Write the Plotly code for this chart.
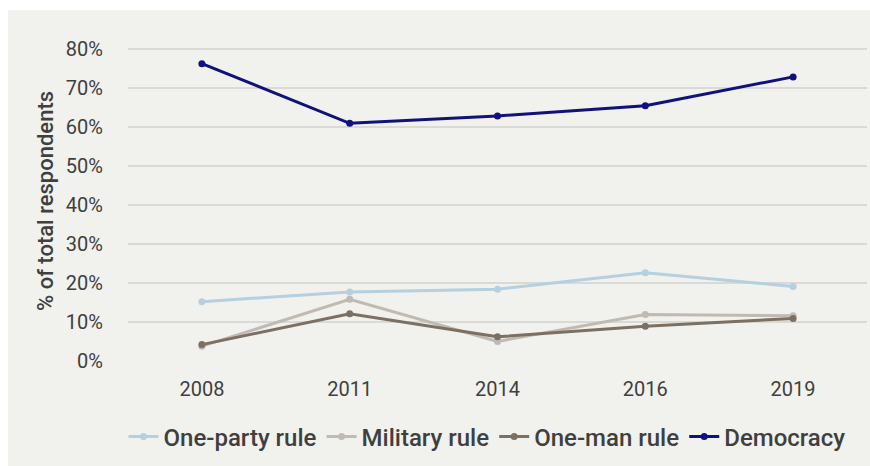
import plotly.graph_objects as go

years = ["2008", "2011", "2014", "2016", "2019"]
one_party = [0.152, 0.177, 0.184, 0.226, 0.191]
military = [0.038, 0.158, 0.050, 0.119, 0.116]
one_man = [0.042, 0.121, 0.062, 0.089, 0.109]
democracy = [0.762, 0.609, 0.628, 0.654, 0.728]

series_names = ["One-party rule", "Military rule", "One-man rule", "Democracy"]
series_values = [one_party, military, one_man, democracy]
series_colors = ["#b5d0df", "#c1bab2", "#7c7062", "#11117d"]

FONT = "Roboto, Arial, sans-serif"
TEXT = "#3f3f3f"
BG = "#f1f1ed"

fig = go.Figure()
for name, vals, col in zip(series_names, series_values, series_colors):
    fig.add_trace(go.Scatter(
        x=years, y=vals, name=name, mode="lines+markers",
        line=dict(color=col, width=3),
        marker=dict(color=col, size=7),
        hoverinfo="skip",
    ))

W, H = 870, 466
L, R, T, B = 128, 3, 41, 105
pw, ph = W - L - R, H - T - B

def px_x(p):
    return (p - L) / pw

def px_y(p):
    return (H - B - p) / ph

fig.update_layout(
    width=W, height=H,
    margin=dict(l=L, r=R, t=T, b=B),
    paper_bgcolor="white",
    plot_bgcolor=BG,
    font=dict(family=FONT, size=20, color=TEXT),
    shapes=[dict(
        type="rect", xref="paper", yref="paper", layer="below",
        x0=px_x(8), x1=px_x(872), y0=px_y(468), y1=px_y(10),
        fillcolor=BG, line=dict(width=0),
    )],
    showlegend=True,
    legend=dict(
        orientation="h", x=px_x(487), xanchor="center", y=px_y(437), yanchor="middle",
        font=dict(family=FONT, size=24, color=TEXT, weight=500),
        bgcolor="rgba(0,0,0,0)", itemwidth=30, tracegroupgap=0,
    ),
    xaxis=dict(
        type="category", showgrid=False, zeroline=False, showline=False,
        ticks="outside", ticklen=10, tickcolor="rgba(0,0,0,0)",
        tickfont=dict(family=FONT, size=20, color=TEXT),
        range=[-0.5, 4.5],
    ),
    yaxis=dict(
        range=[0, 0.82], tickvals=[0, 0.1, 0.2, 0.3, 0.4, 0.5, 0.6, 0.7, 0.8],
        tickformat=".0%", showgrid=True, gridcolor="#d9d9d6", gridwidth=1.5,
        zeroline=False, showline=False,
        ticks="outside", ticklen=20, tickcolor="rgba(0,0,0,0)",
        tickfont=dict(family=FONT, size=20, color=TEXT),
        title=dict(text="% of total respondents", standoff=6,
                   font=dict(family=FONT, size=22, color=TEXT, weight=500)),
    ),
)

fig.write_html("out.html")
